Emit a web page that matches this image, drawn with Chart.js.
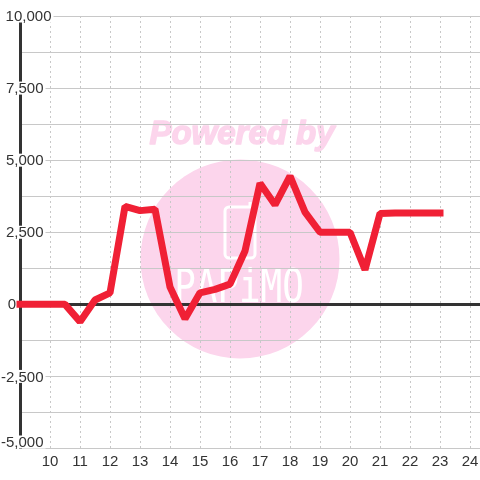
<!DOCTYPE html>
<html><head><meta charset="utf-8">
<style>html,body{margin:0;padding:0;background:#fff}canvas{display:block}</style>
<script src="https://cdn.jsdelivr.net/npm/chart.js@4"></script>
</head><body><canvas id="c" width="480" height="480"></canvas>
<script>
const xValues = [9,9.5,10,10.5,11,11.5,12,12.5,13,13.5,14,14.5,15,15.5,16,16.5,17,17.5,18,18.5,19,19.5,20,20.5,21,21.5,22,22.5,23];
const yValues = [0,0,0,0,-600,150,400,3400,3250,3300,600,-500,400,520,700,1850,4200,3450,4450,3200,2500,2500,2500,1200,3150,3170,3170,3170,3170];
const yTickValues = [-5000,-2500,0,2500,5000,7500,10000];
const FONT = '15px "Liberation Sans", Arial, sans-serif';

const watermark = { id:'watermark', beforeDraw(ch){
  const g = ch.ctx; g.save();
  g.fillStyle='#fcd5ec';
  g.beginPath(); g.arc(240,259,99.5,0,Math.PI*2); g.fill();
  g.font='italic bold 33px "Liberation Sans", Arial, sans-serif';
  g.textAlign='center'; g.textBaseline='middle';
  g.strokeStyle='#fcd5ec'; g.lineWidth=1.5; g.lineJoin='round';
  g.fillText('Powered by',242,135); g.strokeText('Powered by',242,135);
  g.strokeStyle='#fff'; g.lineWidth=3;
  g.beginPath(); g.roundRect(225,207,30,51,4); g.stroke();
  g.beginPath(); g.moveTo(250,207); g.lineTo(250,202); g.stroke();
  g.fillStyle='#fff';
  g.save(); g.translate(239,290); g.scale(0.78,1);
  g.font='46px "DejaVu Sans Mono", monospace';
  g.fillText('PAPiMO',0,0);
  g.restore();
  g.restore();
}};
const yLabels = { id:'yLabels', beforeDatasetsDraw(ch){
  const g = ch.ctx, s = ch.scales.y;
  g.save(); g.font=FONT; g.textBaseline='middle';
  yTickValues.forEach(v=>{
    const text = v.toLocaleString('en-US');
    let py = s.getPixelForValue(v) + 0.5, right = 43.5;
    if (v===10000){ right = 51.5; }
    if (v===0){ right = 16; }
    if (v===-5000){ py -= 6.5; }
    const w = g.measureText(text).width;
    g.fillStyle='#fff';
    g.fillRect(right-w-1, py-7, w+3, 13);
    g.fillStyle='#333'; g.textAlign='right';
    g.fillText(text,right,py+0.5);
  });
  g.restore();
}};
new Chart(document.getElementById('c'),{
  type:'line',
  data:{datasets:[{
    data:xValues.map((x,i)=>({x,y:yValues[i]})),
    borderColor:'#f02035', borderWidth:7, pointRadius:0, tension:0,
    borderCapStyle:'square', borderJoinStyle:'bevel', clip:false
  }]},
  options:{
    responsive:false, animation:false, devicePixelRatio:1,
    layout:{padding:{top:16,left:0,right:0,bottom:0}},
    plugins:{legend:{display:false},tooltip:{enabled:false}},
    scales:{
      x:{type:'linear',min:9,max:24.3333,
        afterFit(s){s.height=31.5;s.paddingRight=0;s.paddingLeft=0;},
        grid:{color:c=>c.tick&&c.tick.value===9?'rgba(0,0,0,0)':'#c8c8c8',lineWidth:1,drawTicks:false},
        border:{display:false,dash:[2,3]},
        ticks:{stepSize:1,includeBounds:false,autoSkip:false,maxRotation:0,padding:4,color:'#333',
          font:{family:'"Liberation Sans", Arial, sans-serif',size:15},
          callback:v=>v===9?'':String(v)}},
      y:{min:-5000,max:10000,
        afterFit(s){s.width=20;},
        grid:{color:c=>c.tick&&c.tick.value===0?'#333':'#c8c8c8',lineWidth:c=>c.tick&&c.tick.value===0?3:1,drawTicks:false},
        border:{display:true,color:'#333',width:3},
        ticks:{stepSize:1250,display:false}}
    }
  },
  plugins:[watermark,yLabels]
});
</script></body></html>
